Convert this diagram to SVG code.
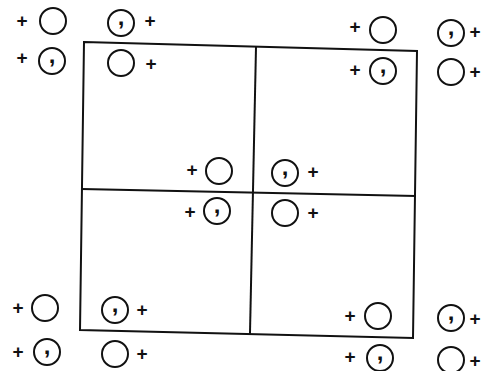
<svg xmlns="http://www.w3.org/2000/svg" width="481" height="371" viewBox="0 0 481 371">
<style>
.c{fill:none;stroke:#111;stroke-width:2}
.p{font-family:"Liberation Sans",Arial,sans-serif;font-size:19px;font-weight:bold;fill:#111;text-anchor:middle}
.k{font-family:"Liberation Sans",Arial,sans-serif;font-size:24px;font-weight:bold;fill:#111;text-anchor:middle}
.l{fill:none;stroke:#111;stroke-width:2;stroke-linecap:square}
</style>
<rect width="481" height="371" fill="#fff"/>
<g id="connectors">
<path class="l" d="M84,42 L417,51 L413,338 L80,330 Z"/>
<path class="l" d="M256,47 L250,333"/>
<path class="l" d="M82,189 L415,196"/>
</g>
<g id="n1"><text class="p" x="22" y="27">+</text><circle class="c" cx="53" cy="21" r="13"/></g>
<g id="n2"><circle class="c" cx="121" cy="23" r="13"/><text class="k" x="121" y="25">,</text><text class="p" x="150" y="27">+</text></g>
<g id="n3"><text class="p" x="22" y="64">+</text><circle class="c" cx="52" cy="61" r="13"/><text class="k" x="52" y="63">,</text></g>
<g id="n4"><circle class="c" cx="121" cy="63" r="13"/><text class="p" x="151" y="70">+</text></g>
<g id="n5"><text class="p" x="355" y="33">+</text><circle class="c" cx="383" cy="30" r="13"/></g>
<g id="n6"><circle class="c" cx="451" cy="33" r="13"/><text class="k" x="451" y="35">,</text><text class="p" x="475" y="38">+</text></g>
<g id="n7"><text class="p" x="355" y="76">+</text><circle class="c" cx="383" cy="71" r="13"/><text class="k" x="383" y="73">,</text></g>
<g id="n8"><circle class="c" cx="451" cy="72" r="13"/><text class="p" x="475" y="78">+</text></g>
<g id="n9"><text class="p" x="192" y="176">+</text><circle class="c" cx="219" cy="171" r="13"/></g>
<g id="n10"><circle class="c" cx="285" cy="173" r="13"/><text class="k" x="285" y="175">,</text><text class="p" x="313" y="178">+</text></g>
<g id="n11"><text class="p" x="190" y="218">+</text><circle class="c" cx="217" cy="211" r="13"/><text class="k" x="217" y="213">,</text></g>
<g id="n12"><circle class="c" cx="285" cy="213" r="13"/><text class="p" x="313" y="219">+</text></g>
<g id="n13"><text class="p" x="18" y="314">+</text><circle class="c" cx="45" cy="308" r="13"/></g>
<g id="n14"><circle class="c" cx="115" cy="310" r="13"/><text class="k" x="115" y="312">,</text><text class="p" x="142" y="316">+</text></g>
<g id="n15"><text class="p" x="18" y="358">+</text><circle class="c" cx="47" cy="352" r="13"/><text class="k" x="47" y="354">,</text></g>
<g id="n16"><circle class="c" cx="115" cy="354" r="13"/><text class="p" x="142" y="360">+</text></g>
<g id="n17"><text class="p" x="350" y="322">+</text><circle class="c" cx="378" cy="316" r="13"/></g>
<g id="n18"><circle class="c" cx="451" cy="318" r="13"/><text class="k" x="451" y="320">,</text><text class="p" x="475" y="325">+</text></g>
<g id="n19"><text class="p" x="350" y="363">+</text><circle class="c" cx="380" cy="358" r="13"/><text class="k" x="380" y="360">,</text></g>
<g id="n20"><circle class="c" cx="451" cy="360" r="13"/><text class="p" x="475" y="367">+</text></g>
</svg>
